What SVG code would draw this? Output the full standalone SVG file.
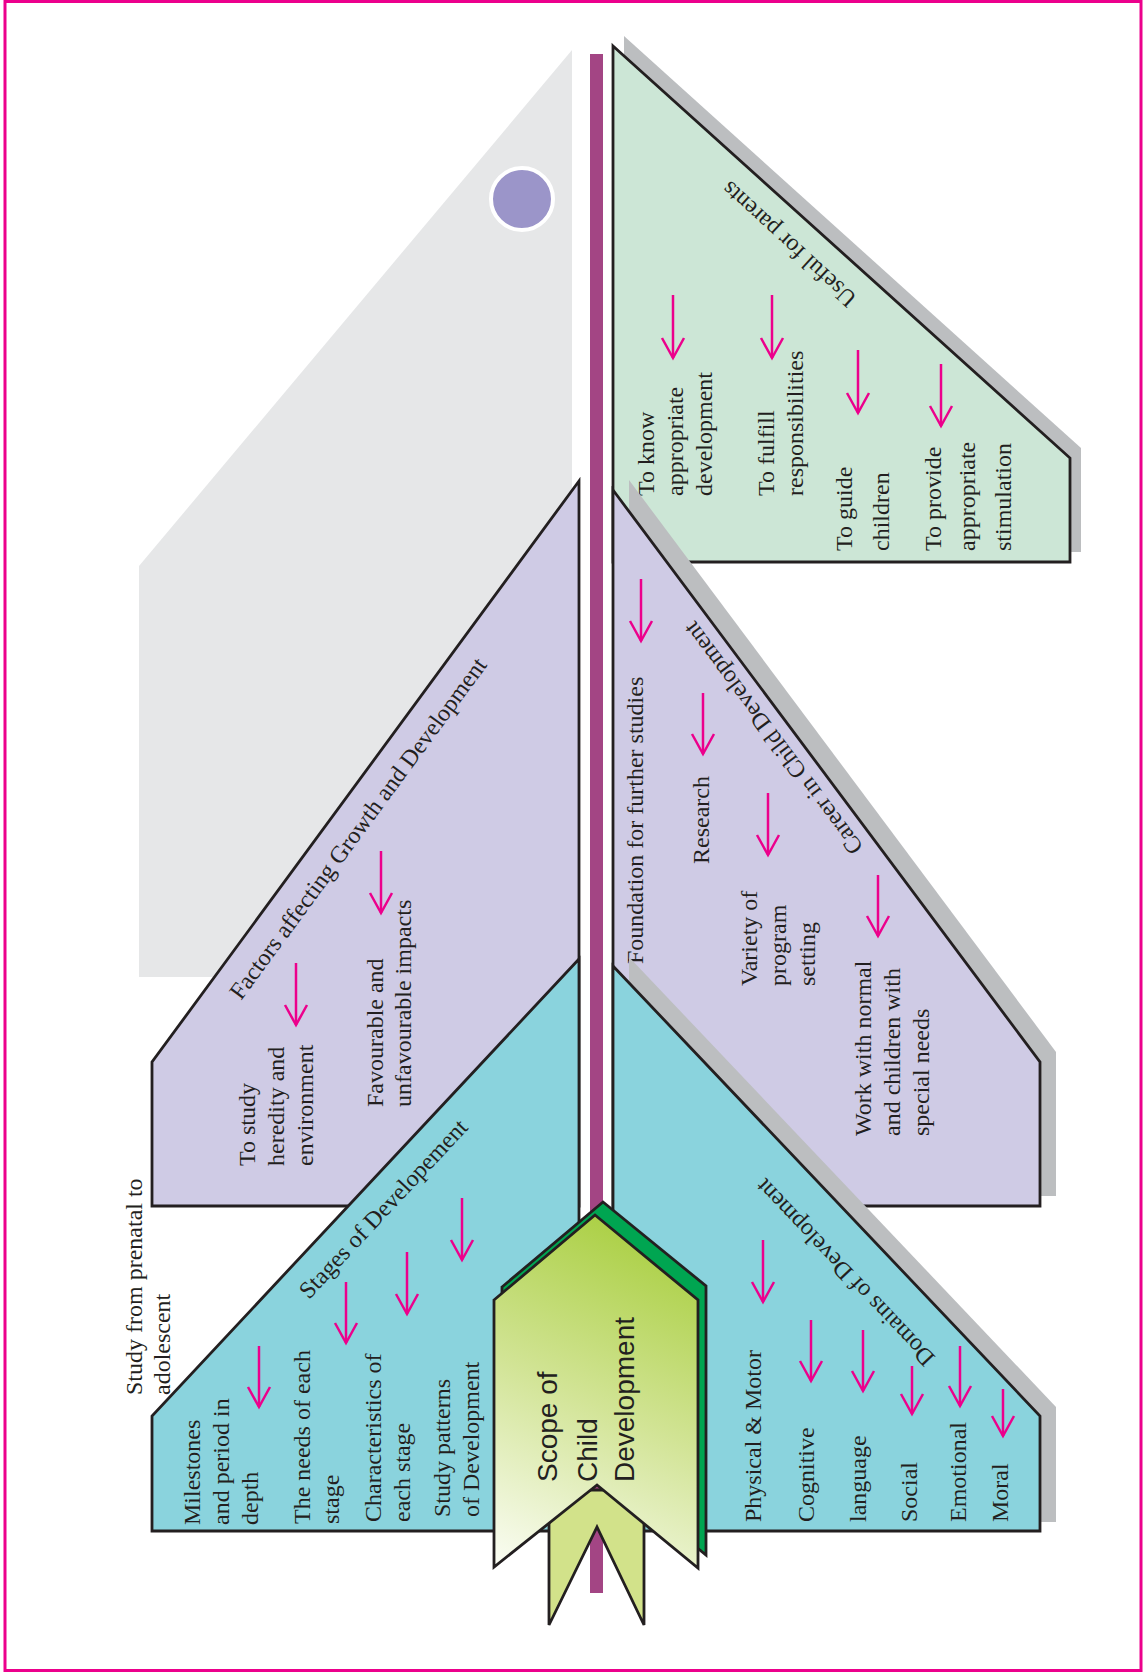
<svg xmlns="http://www.w3.org/2000/svg" width="1145" height="1673" viewBox="0 0 1145 1673">
<defs>
<style>
.pn{stroke:#231F20;stroke-width:2.8;stroke-linejoin:miter}
.sh{fill:#BCBEC0}
.lav{fill:#CFCBE5}
.teal{fill:#8AD3DD}
.mint{fill:#CCE6D6}
.ar{stroke:#EC008C;stroke-width:2.5;fill:none;marker-end:url(#ah)}
.t{font-family:"Liberation Serif","Times New Roman",serif;font-size:24px;fill:#231F20}
.bk{font-family:"Liberation Sans",Arial,sans-serif;font-size:28px;fill:#231F20}
</style>
<marker id="ah" markerUnits="userSpaceOnUse" viewBox="-24 -14 28 28" markerWidth="28" markerHeight="28" refX="0" refY="0" orient="auto" overflow="visible">
<path d="M-20,-11 L0,0 L-20,11" fill="none" stroke="#EC008C" stroke-width="2.5"/>
</marker>
<linearGradient id="bg" gradientUnits="userSpaceOnUse" x1="660" y1="1225" x2="500" y2="1570">
<stop offset="0" stop-color="#A8CE3E"/>
<stop offset="0.5" stop-color="#D2E496"/>
<stop offset="1" stop-color="#FBFDF5"/>
</linearGradient>
</defs>
<rect x="5" y="1.5" width="1136" height="1669" fill="#FFFFFF" stroke="#EC008C" stroke-width="3"/>

<g id="background">
<polygon points="572,50 139,566 139,977 572,977" fill="#E6E7E8"/>
<circle cx="522" cy="199" r="31" fill="#9B95C9" stroke="#FFFFFF" stroke-width="4"/>
<rect x="590" y="54" width="13" height="1539" fill="#A34584"/>
</g>

<g id="factors">
<polygon class="pn lav" points="579,481 152,1062 152,1206 579,1206"/>
<text class="t" transform="translate(241,1001) rotate(-53.7)">Factors affecting Growth and Development</text>
<text class="t" transform="translate(255,1166) rotate(-90)">To study</text>
<text class="t" transform="translate(284,1166) rotate(-90)">heredity and</text>
<text class="t" transform="translate(313,1166) rotate(-90)">environment</text>
<text class="t" transform="translate(383,1107) rotate(-90)">Favourable and</text>
<text class="t" transform="translate(411,1107) rotate(-90)">unfavourable impacts</text>
</g>

<g id="stages">
<polygon class="pn teal" points="579,959 152,1416 152,1531 579,1531"/>
<text class="t" transform="translate(309,1300) rotate(-47)">Stages of Developement</text>
<text class="t" transform="translate(200,1525) rotate(-90)">Milestones</text>
<text class="t" transform="translate(229,1525) rotate(-90)">and period in</text>
<text class="t" transform="translate(258,1525) rotate(-90)">depth</text>
<text class="t" transform="translate(310,1524) rotate(-90)">The needs of each</text>
<text class="t" transform="translate(339,1524) rotate(-90)">stage</text>
<text class="t" transform="translate(381,1522) rotate(-90)">Characteristics of</text>
<text class="t" transform="translate(410,1522) rotate(-90)">each stage</text>
<text class="t" transform="translate(450,1517) rotate(-90)">Study patterns</text>
<text class="t" transform="translate(479,1517) rotate(-90)">of Development</text>
</g>

<g id="prenatal">
<text class="t" transform="translate(142,1395) rotate(-90)">Study from prenatal to</text>
<text class="t" transform="translate(170,1395) rotate(-90)">adolescent</text>
</g>

<g id="parents">
<polygon class="sh" points="624,36 1081,448 1081,552 624,552"/>
<polygon class="pn mint" points="613,46 1070,458 1070,562 613,562"/>
<text class="t" transform="translate(858,297) rotate(222.5)">Useful for parents</text>
<text class="t" transform="translate(654,496) rotate(-90)">To know</text>
<text class="t" transform="translate(683,496) rotate(-90)">appropriate</text>
<text class="t" transform="translate(712,496) rotate(-90)">development</text>
<text class="t" transform="translate(774,496) rotate(-90)">To fulfill</text>
<text class="t" transform="translate(803,496) rotate(-90)">responsibilities</text>
<text class="t" transform="translate(852,551) rotate(-90)">To guide</text>
<text class="t" transform="translate(889,551) rotate(-90)">children</text>
<text class="t" transform="translate(941,551) rotate(-90)">To provide</text>
<text class="t" transform="translate(975,551) rotate(-90)">appropriate</text>
<text class="t" transform="translate(1011,551) rotate(-90)">stimulation</text>
</g>

<g id="career">
<polygon class="sh" points="629,480 1056,1052 1056,1196 629,1196"/>
<polygon class="pn lav" points="613,490 1040,1062 1040,1206 613,1206"/>
<text class="t" transform="translate(864,847) rotate(233.3)">Career in Child Development</text>
<text class="t" transform="translate(643,964) rotate(-90)">Foundation for further studies</text>
<text class="t" transform="translate(709,864) rotate(-90)">Research</text>
<text class="t" transform="translate(757,986) rotate(-90)">Variety of</text>
<text class="t" transform="translate(786,986) rotate(-90)">program</text>
<text class="t" transform="translate(815,986) rotate(-90)">setting</text>
<text class="t" transform="translate(871,1136) rotate(-90)">Work with normal</text>
<text class="t" transform="translate(900,1136) rotate(-90)">and children with</text>
<text class="t" transform="translate(929,1136) rotate(-90)">special needs</text>
</g>

<g id="domains">
<polygon class="sh" points="629,957 1056,1407 1056,1522 629,1522"/>
<polygon class="pn teal" points="613,966 1040,1416 1040,1531 613,1531"/>
<text class="t" transform="translate(936,1357) rotate(226.5)">Domains of Development</text>
<text class="t" transform="translate(761,1522) rotate(-90)">Physical &amp; Motor</text>
<text class="t" transform="translate(814,1522) rotate(-90)">Cognitive</text>
<text class="t" transform="translate(866,1522) rotate(-90)">language</text>
<text class="t" transform="translate(917,1522) rotate(-90)">Social</text>
<text class="t" transform="translate(966,1522) rotate(-90)">Emotional</text>
<text class="t" transform="translate(1008,1522) rotate(-90)">Moral</text>
</g>

<g id="book">
<polygon class="pn" fill="#D2E28A" points="549,1490 549,1625 597,1527 644,1625 644,1490"/>
<polygon class="pn" fill="#00A551" points="502,1287 603,1202 706,1286 706,1555 605,1472 502,1554"/>
<polygon class="pn" fill="url(#bg)" points="494,1300 595,1215 698,1300 698,1568 597,1485 494,1567"/>
<text class="bk" transform="translate(557,1482) rotate(-90)">Scope of</text>
<text class="bk" transform="translate(597,1482) rotate(-90)">Child</text>
<text class="bk" transform="translate(634,1482) rotate(-90)">Development</text>
</g>

<g id="connectors">
<line class="ar" x1="673" y1="295" x2="673" y2="358"/>
<line class="ar" x1="772" y1="295" x2="772" y2="358"/>
<line class="ar" x1="858" y1="350" x2="858" y2="413"/>
<line class="ar" x1="941" y1="364" x2="941" y2="426"/>
<line class="ar" x1="296" y1="963" x2="296" y2="1025"/>
<line class="ar" x1="381" y1="851" x2="381" y2="913"/>
<line class="ar" x1="259" y1="1346" x2="259" y2="1407"/>
<line class="ar" x1="346" y1="1282" x2="346" y2="1343"/>
<line class="ar" x1="407" y1="1252" x2="407" y2="1314"/>
<line class="ar" x1="462" y1="1198" x2="462" y2="1260"/>
<line class="ar" x1="641" y1="579" x2="641" y2="641"/>
<line class="ar" x1="703" y1="693" x2="703" y2="754"/>
<line class="ar" x1="768" y1="793" x2="768" y2="855"/>
<line class="ar" x1="878" y1="875" x2="878" y2="936"/>
<line class="ar" x1="763" y1="1240" x2="763" y2="1302"/>
<line class="ar" x1="811" y1="1320" x2="811" y2="1381"/>
<line class="ar" x1="863" y1="1330" x2="863" y2="1391"/>
<line class="ar" x1="912" y1="1366" x2="912" y2="1414"/>
<line class="ar" x1="960" y1="1346" x2="960" y2="1406"/>
<line class="ar" x1="1003" y1="1389" x2="1003" y2="1436"/>
</g>
</svg>
